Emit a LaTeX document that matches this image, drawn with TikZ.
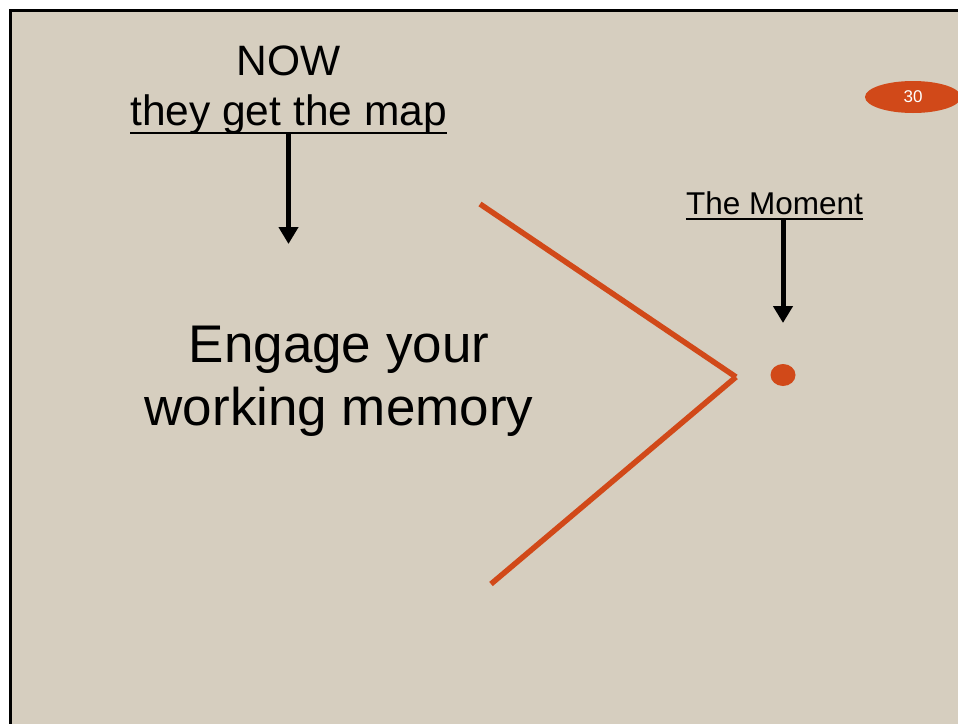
\documentclass[tikz,border=0pt]{standalone}
\usepackage{fontspec}
\setmainfont{Liberation Sans}
\usetikzlibrary{positioning, arrows.meta, shapes.geometric}
\definecolor{slidebg}{RGB}{214,206,191}
\definecolor{rust}{RGB}{209,73,25}

\begin{document}
\begin{tikzpicture}[x=1pt, y=-1pt, inner sep=0pt,
    uline/.style={line width=2.5pt},
    down/.style={line width=5pt, -{Triangle[width=19pt, length=17pt]}},
    wedge/.style={rust, line width=5.5pt}]
  \useasboundingbox (0,0) rectangle (958,723);
  \clip (0,0) rectangle (958,723);
  \draw[fill=slidebg, line width=2.5pt] (10.5,10.5) rectangle (975,740);

  % page number
  \node[ellipse, fill=rust, minimum width=96pt, minimum height=32pt, text=white,
        font=\fontsize{17}{17}\selectfont] (pagenum) at (913,97) {30};

  % left heading and its arrow
  \node[anchor=base, font=\fontsize{42.5}{50}\selectfont] (now) at (288.5,75) {NOW};
  \node[anchor=base, font=\fontsize{42.5}{50}\selectfont] (map) at (288.5,125) {they get the map};
  \draw[uline] ([yshift=-8pt]map.base west) -- ([yshift=-8pt]map.base east);
  \coordinate (mapfoot) at ([yshift=-8pt]map.base);
  \coordinate (maptip) at (288.5,244);
  \draw[down] (mapfoot) -- (maptip);

  \node[anchor=base, font=\fontsize{53}{63}\selectfont] (engage) at (339,362) {Engage your};
  \node[anchor=base, font=\fontsize{53}{63}\selectfont] (memory) at (339,425) {working memory};

  % the wedge
  \coordinate (wtop) at (480,204);
  \coordinate (wtip) at (736,377);
  \coordinate (wbot) at (491,584);
  \draw[wedge] (wtop) -- (wtip);
  \draw[wedge] (wtip) -- (wbot);

  % right label, arrow and dot
  \node[anchor=base, font=\fontsize{31.5}{36}\selectfont] (moment) at (774.5,214) {The Moment};
  \draw[line width=2pt] ([yshift=-5pt]moment.base west) -- ([yshift=-5pt]moment.base east);
  \coordinate (momfoot) at (783,219);
  \coordinate (momtip) at (783,323);
  \draw[down] (momfoot) -- (momtip);
  \node[ellipse, fill=rust, minimum width=25pt, minimum height=22pt] (dot) at (783,375) {};
\end{tikzpicture}
\end{document}
